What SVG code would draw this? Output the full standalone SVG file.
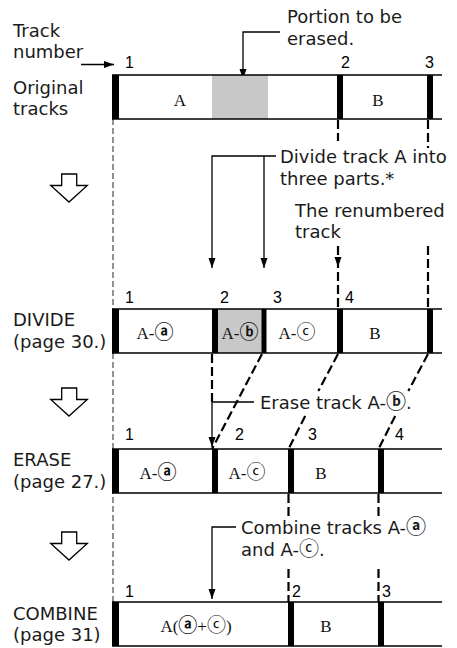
<svg xmlns="http://www.w3.org/2000/svg" width="457" height="648" viewBox="0 0 457 648">
<style>
.lbl{font-family:"DejaVu Sans","Liberation Sans",sans-serif;font-size:18px;fill:#1a1a1a}
.num{font-family:"Liberation Sans",Arial,sans-serif;font-size:16px;fill:#000}
.ser{font-family:"Liberation Serif","Times New Roman",serif;font-size:17px;fill:#111;text-anchor:middle}
.circ{font-family:"DejaVu Sans","Noto Sans CJK JP",sans-serif;font-size:19px;font-weight:bold}
.circ2{font-family:"DejaVu Sans","Noto Sans CJK JP",sans-serif;font-size:20px;font-weight:bold}
.thin{font-weight:normal}
.edge{stroke:#000;stroke-width:1.5;fill:none}
.mk{fill:#000}
.grey{fill:#c8c8c8}
.lead{stroke:#000;stroke-width:1.3;fill:none}
.dthin{stroke:#222;stroke-width:1;stroke-dasharray:6 3;fill:none}
.dthick{stroke:#000;stroke-width:2.2;stroke-dasharray:9 4;fill:none}
.hollow{fill:#fff;stroke:#000;stroke-width:1.3;stroke-linejoin:miter}
</style>
<defs>
<marker id="ah" viewBox="0 0 10 10" refX="10" refY="5" markerWidth="10" markerHeight="10" markerUnits="userSpaceOnUse" orient="auto"><path d="M0,1.5 L10,5 L0,8.5 z" fill="#000"/></marker>
</defs>

<g id="connectors">
  <path class="dthin" d="M113,119 V602"/>
  <path class="dthick" d="M338,120 V141 M338,246 V309"/>
  <path class="dthick" d="M428,120 V148 M428,246 V309"/>
  <polygon points="334.5,257 341.5,257 338,267" fill="#000"/>
  <path class="dthick" d="M212,354 V402"/>
  <path class="dthick" d="M262,354 L212,449"/>
  <path class="dthick" d="M338,354 L318.3,391 M305.2,416 L288.5,449"/>
  <path class="dthick" d="M428,354 L408.3,391 M395.2,416 L378.5,449"/>
  <path class="dthick" d="M288.5,494 V517 M288.5,569 V602"/>
  <path class="dthick" d="M378.5,494 V517 M378.5,569 V602"/>
  <path class="lead" d="M81,64.5 H114" marker-end="url(#ah)"/>
  <path class="lead" d="M280,32 H243 V79" marker-end="url(#ah)"/>
  <path class="lead" d="M276,156 H212 V268" marker-end="url(#ah)"/>
  <path class="lead" d="M264,156 V268" marker-end="url(#ah)"/>
  <path class="lead" d="M254,402 H212 V447" marker-end="url(#ah)"/>
  <path class="lead" d="M236,527 H212 V599" marker-end="url(#ah)"/>
</g>

<g id="flow-arrows">
  <path class="hollow" d="M61.7,174 H76.7 V185.5 H87.3 L69,202 L50.7,185.5 H61.7 Z"/>
  <path class="hollow" d="M61.7,388 H76.7 V399.5 H87.3 L69,416 L50.7,399.5 H61.7 Z"/>
  <path class="hollow" d="M61.7,532 H76.7 V543.5 H87.3 L69,560 L50.7,543.5 H61.7 Z"/>
</g>

<g id="track-number-label">
  <text class="lbl" x="13" y="37">Track</text>
  <text class="lbl" x="13" y="58">number</text>
</g>

<g id="row-original">
  <text class="lbl" x="13" y="94">Original</text>
  <text class="lbl" x="13" y="115">tracks</text>
  <rect class="grey" x="212" y="75" width="56" height="44"/>
  <path class="edge" d="M112,75 H442 M112,119 H442"/>
  <rect class="mk" x="112" y="75" width="7" height="44"/>
  <rect class="mk" x="337" y="75" width="6" height="44"/>
  <rect class="mk" x="427" y="75" width="6" height="44"/>
  <text class="num" x="125" y="68">1</text>
  <text class="num" x="341" y="68">2</text>
  <text class="num" x="425" y="68">3</text>
  <text class="ser" x="180" y="106">A</text>
  <text class="ser" x="378" y="106">B</text>
</g>

<g id="callout-portion">
  <text class="lbl" x="287" y="23">Portion to be</text>
  <text class="lbl" x="287" y="45">erased.</text>
</g>

<g id="callout-divide">
  <text class="lbl" x="280" y="163">Divide track A into</text>
  <text class="lbl" x="280" y="185">three parts.*</text>
</g>

<g id="callout-renumbered">
  <text class="lbl" x="295" y="216.5">The renumbered</text>
  <text class="lbl" x="295" y="238">track</text>
</g>

<g id="row-divide">
  <text class="lbl" x="13" y="326">DIVIDE</text>
  <text class="lbl" x="13" y="348">(page 30.)</text>
  <rect class="grey" x="218" y="309" width="44" height="44"/>
  <path class="edge" d="M112,309 H442 M112,353 H442"/>
  <rect class="mk" x="112" y="309" width="7" height="44"/>
  <rect class="mk" x="212" y="309" width="6" height="44"/>
  <rect class="mk" x="261.5" y="309" width="5" height="44"/>
  <rect class="mk" x="337" y="309" width="6" height="44"/>
  <rect class="mk" x="427" y="309" width="6" height="44"/>
  <text class="num" x="125" y="303">1</text>
  <text class="num" x="220" y="303">2</text>
  <text class="num" x="273" y="303">3</text>
  <text class="num" x="345" y="303">4</text>
  <text class="ser" x="155" y="339">A-<tspan class="circ">ⓐ</tspan></text>
  <text class="ser" x="240" y="339">A-<tspan class="circ">ⓑ</tspan></text>
  <text class="ser" x="297" y="339">A-<tspan class="circ thin">ⓒ</tspan></text>
  <text class="ser" x="375" y="339">B</text>
</g>

<g id="callout-erase">
  <text class="lbl" x="260" y="409">Erase track A-<tspan class="circ2">ⓑ</tspan>.</text>
</g>

<g id="row-erase">
  <text class="lbl" x="13" y="466">ERASE</text>
  <text class="lbl" x="13" y="488">(page 27.)</text>
  <path class="edge" d="M112,449 H442 M112,493 H442"/>
  <rect class="mk" x="112" y="449" width="7" height="44"/>
  <rect class="mk" x="212" y="449" width="6" height="44"/>
  <rect class="mk" x="288" y="449" width="6" height="44"/>
  <rect class="mk" x="378" y="449" width="6" height="44"/>
  <text class="num" x="125" y="440">1</text>
  <text class="num" x="235" y="440">2</text>
  <text class="num" x="308" y="440">3</text>
  <text class="num" x="395" y="440">4</text>
  <text class="ser" x="158" y="479">A-<tspan class="circ">ⓐ</tspan></text>
  <text class="ser" x="247" y="479">A-<tspan class="circ thin">ⓒ</tspan></text>
  <text class="ser" x="321" y="479">B</text>
</g>

<g id="callout-combine">
  <text class="lbl" x="241" y="534">Combine tracks A-<tspan class="circ2">ⓐ</tspan></text>
  <text class="lbl" x="241" y="556">and A-<tspan class="circ2 thin">ⓒ</tspan>.</text>
</g>

<g id="row-combine">
  <text class="lbl" x="13" y="620">COMBINE</text>
  <text class="lbl" x="13" y="641">(page 31)</text>
  <path class="edge" d="M112,602 H442 M112,646 H442"/>
  <rect class="mk" x="112" y="602" width="7" height="44"/>
  <rect class="mk" x="288" y="602" width="6" height="44"/>
  <rect class="mk" x="378" y="602" width="6" height="44"/>
  <text class="num" x="125" y="597">1</text>
  <text class="num" x="292" y="597">2</text>
  <text class="num" x="382" y="597">3</text>
  <text class="ser" x="196" y="632">A(<tspan class="circ">ⓐ</tspan>+<tspan class="circ thin">ⓒ</tspan>)</text>
  <text class="ser" x="326" y="632">B</text>
</g>
</svg>
